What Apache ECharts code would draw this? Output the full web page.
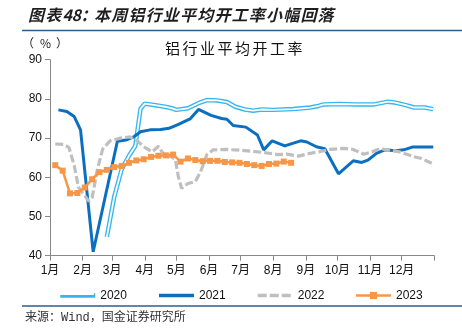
<!DOCTYPE html>
<html>
<head>
<meta charset="utf-8">
<script src="https://cdn.jsdelivr.net/npm/echarts@6/dist/echarts.min.js"></script>
<style>
  html, body { margin: 0; padding: 0; background: #fff; }
  #chart { width: 462px; height: 331px; }
</style>
</head>
<body>
<div id="chart"></div>
<script>
// Month tick labels and the day-of-year (0 = 1 Jan) on which each month starts
const monthLabels = ['1月', '2月', '3月', '4月', '5月', '6月', '7月', '8月', '9月', '10月', '11月', '12月'];
const monthStarts = [0, 31, 59, 90, 120, 151, 181, 212, 243, 273, 304, 334];
const yearLength = 365;

const yTicks = [40, 50, 60, 70, 80, 90];

const titleText = '图表48：本周铝行业平均开工率小幅回落';
const chartName = '铝行业平均开工率';
const unitText = '（%）';
const sourceText = '来源：Wind，国金证券研究所';

const seriesNames = ['2020', '2021', '2022', '2023'];

// Weekly average operating rate of the aluminium industry, %
const dates2020 = ['02-24', '03-03', '03-10', '03-17', '03-23', '03-28', '04-01', '04-11', '04-20', '04-27',
  '05-01', '05-12', '05-22', '05-30', '06-09', '06-18', '06-26', '07-05', '07-13', '07-21',
  '08-01', '08-20', '09-05', '09-13', '09-18', '10-03', '10-18', '11-05', '11-18', '11-24',
  '12-05', '12-13', '12-23', '12-31'];
const values2020 = [44.8, 55.0, 62.0, 65.5, 68.0, 77.5, 78.8, 78.4, 78.0, 77.6,
  77.2, 77.6, 78.9, 79.7, 79.6, 79.2, 78.0, 77.3, 77.0, 77.3,
  77.2, 77.4, 77.8, 78.2, 78.6, 78.7, 78.6, 78.6, 79.3, 79.1,
  78.4, 77.8, 77.8, 77.4];

const dates2021 = ['01-09', '01-17', '01-24', '01-30', '02-11', '03-06', '03-14', '03-22', '03-28', '04-06',
  '04-16', '04-24', '05-03', '05-14', '05-22', '06-03', '06-13', '06-18', '06-24', '07-06',
  '07-17', '07-23', '07-31', '08-12', '08-27', '09-02', '09-11', '09-19', '10-02', '10-16',
  '10-24', '10-30', '11-07', '11-15', '11-25', '12-03', '12-11', '12-31'];
const values2021 = [77.2, 76.8, 75.5, 72.1, 41.0, 69.2, 69.5, 70.4, 71.6, 72.1,
  72.2, 72.5, 73.5, 74.9, 77.3, 75.8, 75.0, 74.8, 73.2, 72.8,
  70.8, 67.0, 69.3, 68.0, 69.3, 69.0, 67.8, 67.3, 60.9, 64.2,
  63.8, 64.4, 66.1, 67.0, 66.8, 67.0, 67.7, 67.7];

const dates2022 = ['01-06', '01-14', '01-19', '01-24', '01-28', '02-01', '02-07', '02-10', '02-15', '02-20',
  '02-27', '03-09', '03-18', '03-25', '03-31', '04-08', '04-14', '04-21', '04-25', '04-30',
  '05-03', '05-06', '05-12', '05-19', '05-24', '05-30', '06-05', '06-18', '07-01', '07-13',
  '07-24', '08-05', '08-14', '08-25', '09-03', '09-13', '09-24', '10-07', '10-16', '10-26',
  '11-03', '11-10', '11-18', '11-29', '12-12', '12-20', '12-31'];
const values2022 = [68.5, 68.4, 67.6, 63.0, 57.5, 56.0, 53.9, 54.8, 62.0, 67.2,
  69.3, 70.0, 70.3, 69.3, 67.8, 66.5, 67.9, 65.0, 65.4, 64.6,
  60.0, 57.2, 58.4, 58.9, 61.4, 65.8, 67.0, 67.1, 66.9, 66.6,
  66.3, 65.8, 65.9, 65.4, 66.0, 66.5, 67.1, 67.4, 67.1, 65.9,
  66.5, 67.3, 67.0, 66.5, 65.3, 64.8, 63.4];

const dates2023 = ['01-06', '01-13', '01-20', '01-27', '02-03', '02-10', '02-17', '02-24', '03-03', '03-10',
  '03-17', '03-24', '03-31', '04-07', '04-14', '04-21', '04-28', '05-05', '05-12', '05-19',
  '05-26', '06-02', '06-09', '06-16', '06-23', '06-30', '07-07', '07-14', '07-21', '07-28',
  '08-04', '08-11', '08-18'];
const values2023 = [63.1, 61.7, 55.9, 56.0, 57.4, 59.5, 61.3, 61.9, 62.6, 62.9,
  63.7, 64.3, 64.6, 65.2, 65.5, 65.6, 65.8, 64.0, 64.8, 64.4,
  64.1, 64.2, 64.2, 63.9, 63.8, 63.7, 63.4, 63.1, 62.9, 63.4,
  63.5, 64.0, 63.7];

// 'MM-DD' -> day of year on a shared 365-day axis
function dayOfYear(md) {
  const parts = md.split('-').map(Number);
  return monthStarts[parts[0] - 1] + parts[1] - 1;
}
function toPoints(dates, values) {
  return dates.map((d, i) => [dayOfYear(d), values[i]]);
}

// Text laid out one glyph at a time so the character pitch can be set
function spacedText(str, x0, y, pitch, font, fill) {
  const out = [];
  let x = x0;
  for (const ch of str) {
    out.push({
      type: 'text', x: x, y: y, silent: true,
      style: { text: ch, font: font, fill: fill, align: 'left', verticalAlign: 'middle' }
    });
    x += pitch(ch);
  }
  return out;
}

const C2020 = '#35b6ee';
const C2021 = '#0a6fc0';
const C2022 = '#bfbfbf';
const C2023 = '#f79646';
const RULE = '#2f5d8a';
const LABEL_FONT = '"Liberation Sans", "Noto Sans CJK SC", sans-serif';

const titlePitch = ch => (/[0-9]/.test(ch) ? 9 : (ch === '：' ? 13.6 : 17.2));
const namePitch = () => 17.5;
const unitPitch = ch => (ch === '（' ? 18 : 16);

const chart = echarts.init(document.getElementById('chart'), null, { renderer: 'canvas' });

chart.setOption({
  animation: false,
  backgroundColor: '#ffffff',
  grid: { left: 50, right: 27.7, top: 59.7, bottom: 75.3, containLabel: false },
  xAxis: {
    type: 'value',
    min: 0,
    max: yearLength,
    splitLine: { show: false },
    axisLine: { lineStyle: { color: '#888888', width: 1 } },
    axisTick: {
      length: 5,
      inside: false,
      customValues: monthStarts.concat([yearLength]),
      lineStyle: { color: '#888888' }
    },
    axisLabel: {
      customValues: monthStarts,
      margin: 9,
      color: '#111',
      fontSize: 12,
      fontFamily: LABEL_FONT,
      formatter: v => monthLabels[monthStarts.indexOf(v)]
    }
  },
  yAxis: {
    type: 'value',
    min: yTicks[0],
    max: yTicks[yTicks.length - 1],
    interval: 10,
    splitLine: { show: false },
    axisLine: { show: true, lineStyle: { color: '#888888', width: 1 } },
    axisTick: { show: true, length: 5, lineStyle: { color: '#888888' } },
    axisLabel: { margin: 8, color: '#111', fontSize: 12, fontFamily: LABEL_FONT }
  },
  legend: [
    {
      left: 58, top: 289.5, padding: 0,
      itemWidth: 35, itemHeight: 9, itemGap: 30.3,
      selectedMode: false,
      textStyle: { color: '#111', fontSize: 12, fontFamily: LABEL_FONT },
      data: [
        { name: seriesNames[0], itemStyle: { opacity: 0 }, lineStyle: { width: 4.5, color: C2020 } },
        { name: seriesNames[1], itemStyle: { opacity: 0 }, lineStyle: { width: 3.5, color: C2021 } },
        { name: seriesNames[2], itemStyle: { opacity: 0 }, lineStyle: { width: 3.5, color: C2022, type: [9, 3] } },
        { name: seriesNames[3], lineStyle: { width: 2.5, color: C2023 } }
      ]
    },
    {
      // white core of the double-line 2020 key
      left: 58, top: 289.5, padding: 0,
      itemWidth: 35, itemHeight: 9,
      selectedMode: false,
      formatter: () => '',
      data: [{ name: '2020 core', itemStyle: { opacity: 0 }, lineStyle: { width: 1.8, color: '#ffffff' } }]
    }
  ],
  series: [
    {
      name: seriesNames[0], type: 'line', data: toPoints(dates2020, values2020),
      symbol: 'none', lineStyle: { color: C2020, width: 4.5 }, itemStyle: { color: C2020 },
      z: 2
    },
    {
      name: '2020 core', type: 'line', data: toPoints(dates2020, values2020),
      symbol: 'none', lineStyle: { color: '#ffffff', width: 1.8 }, itemStyle: { color: '#ffffff' },
      z: 2
    },
    {
      name: seriesNames[1], type: 'line', data: toPoints(dates2021, values2021),
      symbol: 'none', lineStyle: { color: C2021, width: 3 }, itemStyle: { color: C2021 },
      z: 3
    },
    {
      name: seriesNames[2], type: 'line', data: toPoints(dates2022, values2022),
      symbol: 'none', lineStyle: { color: C2022, width: 3.2, type: [8, 3] }, itemStyle: { color: C2022 },
      z: 3
    },
    {
      name: seriesNames[3], type: 'line', data: toPoints(dates2023, values2023),
      symbol: 'rect', symbolSize: 6, showSymbol: true,
      lineStyle: { color: C2023, width: 2.5 }, itemStyle: { color: C2023 },
      z: 4
    }
  ],
  graphic: [
    ...spacedText(titleText, 28, 15, titlePitch, 'italic bold 16px "Noto Sans CJK SC", sans-serif', '#1e1e1e'),
    { type: 'line', silent: true, shape: { x1: 22, y1: 30.5, x2: 462, y2: 30.5 }, style: { stroke: RULE, lineWidth: 1.5 } },
    ...spacedText(unitText, 22, 43, unitPitch, '12px "Noto Sans CJK SC", sans-serif', '#222'),
    ...spacedText(chartName, 165, 48, namePitch, '15px "Noto Sans CJK SC", sans-serif', '#111'),
    { type: 'line', silent: true, shape: { x1: 22, y1: 306, x2: 462, y2: 306 }, style: { stroke: RULE, lineWidth: 1.5 } },
    {
      type: 'text', x: 25, y: 318, silent: true,
      style: { text: sourceText, font: '12px "Liberation Mono", "Noto Sans CJK SC", monospace', fill: '#333', align: 'left', verticalAlign: 'middle' }
    }
  ]
});
</script>
</body>
</html>
